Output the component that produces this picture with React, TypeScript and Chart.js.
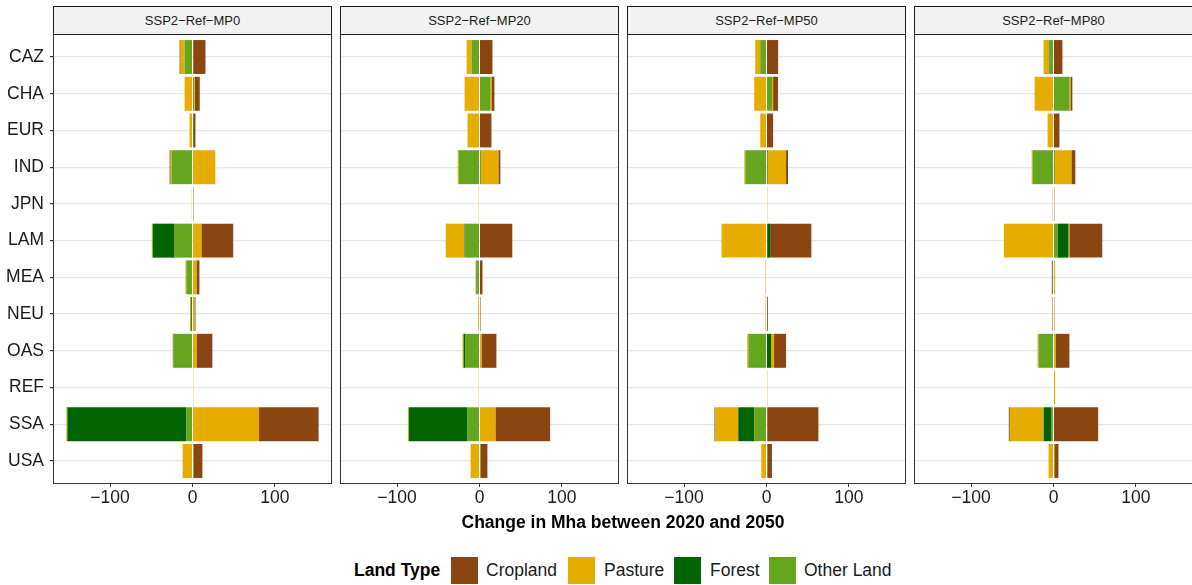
import React, { useEffect, useRef } from "react";
import { Chart, registerables } from "chart.js";

Chart.register(...registerables);

// ---------------- data ----------------
const regions = ["CAZ", "CHA", "EUR", "IND", "JPN", "LAM", "MEA", "NEU", "OAS", "REF", "SSA", "USA"];
const scenarios = ["SSP2\u2212Ref\u2212MP0", "SSP2\u2212Ref\u2212MP20", "SSP2\u2212Ref\u2212MP50", "SSP2\u2212Ref\u2212MP80"];
const xTicks = [-100, 0, 100];
const landTypes = ["Cropland", "Pasture", "Forest", "Other Land"];
const landColors = ["#8B4513", "#E6AC00", "#006400", "#66A61E"];
const axisTitle = "Change in Mha between 2020 and 2050";
const legendTitle = "Land Type";

// SSP2-Ref-MP0
const mp0CroplandLoss = [-1.2, 0, 0, -1.2, 0, 0, 0, 0, 0, 0, 0, 0];
const mp0CroplandGain = [14.9, 6, 2.8, 0, 0, 38.6, 3.6, 1.2, 19.3, 0, 72.3, 10.8];
const mp0PastureLoss = [-4.8, -9.6, -3.6, -1.2, -0.8, -1.2, -0.8, -1.0, -1.2, 0, -1.2, -12];
const mp0PastureGain = [0.8, 0.8, 0, 27.7, 0, 10.8, 4.8, 2.4, 4.8, 1, 80.7, 0];
const mp0ForestLoss = [0, 0, 0, 0, 0, -26.5, 0, -1.2, -1.2, 0, -144.2, 0];
const mp0ForestGain = [0, 0, 0, 0, 0, 0, 0, 0, 0, 0, 0, 0];
const mp0OtherLoss = [-9.6, 0, 0, -25.3, 0, -21.7, -7.6, -0.8, -21.7, 0, -7.6, 0];
const mp0OtherGain = [0, 2, 0.8, 0, 1.2, 0, 0, 0, 0, 0, 0, 1.2];

// SSP2-Ref-MP20
const mp20CroplandLoss = [0, 0, 0, 0, 0, 0, 0, 0, 0, 0, 0, 0];
const mp20CroplandGain = [15.7, 3.6, 14.5, 2.4, 0, 39.8, 3.6, 1.2, 18.1, 0, 66.3, 8.4];
const mp20PastureLoss = [-6, -18.1, -14.5, -1.2, -1, -22.9, -1.2, -1.6, -1.2, -1, -1.2, -10.8];
const mp20PastureGain = [0, 1.2, 0, 21.7, 0, 0, 0, 0, 2.4, 0, 19.3, 0];
const mp20ForestLoss = [0, 0, 0, 0, 0, -1.2, -1.2, 0, -2.4, 0, -71.1, 0];
const mp20ForestGain = [0, 0, 0, 1.2, 0, 0, 0, 0, 0, 0, 0, 0];
const mp20OtherLoss = [-9.6, 0, 0, -25.3, 0, -16.9, -2.4, 0, -16.9, 0, -14.5, 0];
const mp20OtherGain = [0, 13.3, 0, 0, 0, 0, 0, 0, 0, 0, 0, 1.2];

// SSP2-Ref-MP50
const mp50CroplandLoss = [0, 0, 0, 0, 0, 0, 0, 0, 0, 0, -1.2, 0];
const mp50CroplandGain = [14.1, 6, 8, 2.4, 0, 50, 0, 1.6, 14.5, 0, 62.2, 5.6];
const mp50PastureLoss = [-6, -14.9, -7.6, -1.2, 0, -54.6, -1.2, -1.2, -1.2, 0, -27.7, -6.4];
const mp50PastureGain = [0, 1.2, 0, 22.5, 1, 0, 0, 0, 3.6, 1, 0.8, 0];
const mp50ForestLoss = [0, 0, 0, 0, 0, 0, 0, 0, 0, 0, -19.3, 0];
const mp50ForestGain = [0, 0, 0, 1.2, 0, 3.6, 0, 0, 5.6, 0, 0, 0];
const mp50OtherLoss = [-7.6, 0, 0, -25.7, 0, 0, 0, 0, -22.1, 0, -14.9, 0];
const mp50OtherGain = [0, 6.8, 0, 0, 0, 0.8, 0.6, 0, 0, 0, 0, 1];

// SSP2-Ref-MP80
const mp80CroplandLoss = [0, 0, 0, 0, 0, 0, -1.2, 0, 0, 0, -1.2, 0];
const mp80CroplandGain = [10.8, 2.4, 7.2, 4.8, 1, 39.8, 0, 1, 16.9, 0, 54.2, 4.8];
const mp80PastureLoss = [-6, -22.9, -7.2, -1.2, -1, -60.2, -0.8, -0.8, -1.2, 0, -41, -6];
const mp80PastureGain = [0, 1.2, 0, 20.5, 0, 1.2, 0.8, 0, 2.4, 2, 0, 0];
const mp80ForestLoss = [0, 0, 0, 0, 0, 0, 0, 0, 0, 0, -9.6, 0];
const mp80ForestGain = [0, 0, 0, 1.2, 0, 13.3, 0, 0, 0, 0, 0, 0];
const mp80OtherLoss = [-6, 0, 0, -25.3, 0, 0, 0, -1, -18.1, 0, -2.4, 0];
const mp80OtherGain = [0, 19.3, 0, 0, 0, 4.8, 1.2, 0, 0, 0, 0, 1.2];

// per scenario, per land type (order of landTypes): [loss, gain]
const scenarioSeries = [
  [[mp0CroplandLoss, mp0CroplandGain], [mp0PastureLoss, mp0PastureGain], [mp0ForestLoss, mp0ForestGain], [mp0OtherLoss, mp0OtherGain]],
  [[mp20CroplandLoss, mp20CroplandGain], [mp20PastureLoss, mp20PastureGain], [mp20ForestLoss, mp20ForestGain], [mp20OtherLoss, mp20OtherGain]],
  [[mp50CroplandLoss, mp50CroplandGain], [mp50PastureLoss, mp50PastureGain], [mp50ForestLoss, mp50ForestGain], [mp50OtherLoss, mp50OtherGain]],
  [[mp80CroplandLoss, mp80CroplandGain], [mp80PastureLoss, mp80PastureGain], [mp80ForestLoss, mp80ForestGain], [mp80OtherLoss, mp80OtherGain]],
];

// ---------------- layout ----------------
const FONT = "'Liberation Sans', Arial, Helvetica, sans-serif";
const PLOT_TOP = 35;
const PLOT_H = 448;
const X_AXIS_H = 40;
const PANEL_W = 277;
const Y_AXIS_W = 54;
const panelLefts = [54, 341, 628, 915];
const X_MIN = -168;
const X_MAX = 168;
const TICK_COLOR = "#333333";
const TEXT_COLOR = "#1a1a1a";

function buildDatasets(si: number) {
  const series = scenarioSeries[si];
  // stacking outward from zero: Other Land, Forest, Pasture, Cropland
  const order = [3, 2, 1, 0];
  const datasets: any[] = [];
  order.forEach((li) => {
    [0, 1].forEach((sign) => {
      const arr = series[li][sign];
      const data = arr
        .map((v, i) => ({ x: v, y: i }))
        .filter((d) => d.x !== 0);
      datasets.push({
        label: landTypes[li] + (sign === 0 ? " loss" : " gain"),
        data,
        backgroundColor: landColors[li],
        borderWidth: 0,
        barPercentage: 0.925,
        categoryPercentage: 1,
        stack: "s",
      });
    });
  });
  return datasets;
}

function Panel({ si }: { si: number }) {
  const ref = useRef<HTMLCanvasElement | null>(null);
  const isFirst = si === 0;
  const width = PANEL_W + (isFirst ? Y_AXIS_W : 0);
  const height = PLOT_H + X_AXIS_H;
  const left = panelLefts[si] - (isFirst ? Y_AXIS_W : 0);

  useEffect(() => {
    if (!ref.current) return;
    const chart = new Chart(ref.current, {
      type: "bar",
      data: { datasets: buildDatasets(si) },
      options: {
        indexAxis: "y",
        responsive: false,
        animation: false,
        devicePixelRatio: 1,
        layout: { padding: 0 },
        plugins: { legend: { display: false }, tooltip: { enabled: false } },
        scales: {
          x: {
            type: "linear",
            min: X_MIN,
            max: X_MAX,
            stacked: true,
            offset: false,
            afterBuildTicks: (s: any) => {
              s.ticks = xTicks.map((v) => ({ value: v }));
            },
            afterFit: (s: any) => {
              s.height = X_AXIS_H;
              s.paddingLeft = 0;
              s.paddingRight = 0;
            },
            ticks: {
              autoSkip: false,
              maxRotation: 0,
              padding: 1,
              color: TEXT_COLOR,
              font: { family: FONT, size: 17.5 },
              callback: (v: any) => (v < 0 ? "\u2212" + Math.abs(v) : String(v)),
            },
            grid: { offset: false, drawOnChartArea: false, drawTicks: true, tickLength: 4, tickColor: TICK_COLOR, lineWidth: 1 },
            border: { display: false },
          },
          y: {
            type: "linear",
            min: -0.6,
            max: regions.length - 0.4,
            reverse: true,
            stacked: true,
            offset: false,
            afterBuildTicks: (s: any) => {
              s.ticks = regions.map((_, i) => ({ value: i }));
            },
            afterFit: (s: any) => {
              s.width = isFirst ? Y_AXIS_W : 0;
              s.paddingTop = 0;
              s.paddingBottom = 0;
            },
            ticks: {
              display: isFirst,
              autoSkip: false,
              padding: 6,
              color: TEXT_COLOR,
              font: { family: FONT, size: 17.5 },
              callback: (v: any) => regions[v] ?? "",
            },
            grid: {
              offset: false,
              color: "#e6e6e6",
              lineWidth: 1.2,
              drawTicks: isFirst,
              tickLength: 4,
              tickColor: TICK_COLOR,
            },
            border: { display: false },
          },
        },
      } as any,
    });
    return () => chart.destroy();
  }, [si]);

  return (
    <>
      <canvas
        ref={ref}
        width={width}
        height={height}
        style={{ position: "absolute", left, top: PLOT_TOP, width, height }}
      />
      <div
        style={{
          position: "absolute",
          left: panelLefts[si] - 1,
          top: PLOT_TOP - 1,
          width: PANEL_W + 2,
          height: PLOT_H + 2,
          border: "1px solid #333333",
          boxSizing: "border-box",
          pointerEvents: "none",
        }}
      />
      <div
        style={{
          position: "absolute",
          left: panelLefts[si] - 1,
          top: 6,
          width: PANEL_W + 2,
          height: PLOT_TOP - 6,
          border: "1px solid #1a1a1a",
          background: "#f2f2f2",
          boxSizing: "border-box",
          display: "flex",
          alignItems: "center",
          justifyContent: "center",
          fontFamily: FONT,
          fontSize: 13,
          color: TEXT_COLOR,
        }}
      >
        {scenarios[si]}
      </div>
    </>
  );
}

const legendBoxLefts = [451, 568, 674, 769];
const legendTextLefts = [486, 604, 710, 804];

export default function App() {
  useEffect(() => {
    document.body.style.margin = "0";
    document.body.style.overflow = "hidden";
  }, []);

  return (
    <div
      style={{
        position: "relative",
        width: 1192,
        height: 585,
        overflow: "hidden",
        background: "#ffffff",
        fontFamily: FONT,
      }}
    >
      {scenarios.map((_, si) => (
        <Panel key={si} si={si} />
      ))}
      <div
        style={{
          position: "absolute",
          left: panelLefts[0],
          width: panelLefts[3] + PANEL_W - panelLefts[0],
          top: 512,
          height: 20,
          lineHeight: "20px",
          textAlign: "center",
          fontWeight: "bold",
          fontSize: 17.5,
          color: "#000",
          whiteSpace: "nowrap",
        }}
      >
        {axisTitle}
      </div>
      <div
        style={{
          position: "absolute",
          left: 354,
          top: 560,
          height: 20,
          lineHeight: "20px",
          fontWeight: "bold",
          fontSize: 17.5,
          color: "#000",
          whiteSpace: "nowrap",
        }}
      >
        {legendTitle}
      </div>
      {landTypes.map((lt, i) => (
        <React.Fragment key={lt}>
          <div
            style={{
              position: "absolute",
              left: legendBoxLefts[i],
              top: 557,
              width: 27,
              height: 27,
              background: landColors[i],
            }}
          />
          <div
            style={{
              position: "absolute",
              left: legendTextLefts[i],
              top: 560,
              height: 20,
              lineHeight: "20px",
              fontSize: 17.5,
              color: TEXT_COLOR,
              whiteSpace: "nowrap",
            }}
          >
            {lt}
          </div>
        </React.Fragment>
      ))}
    </div>
  );
}
